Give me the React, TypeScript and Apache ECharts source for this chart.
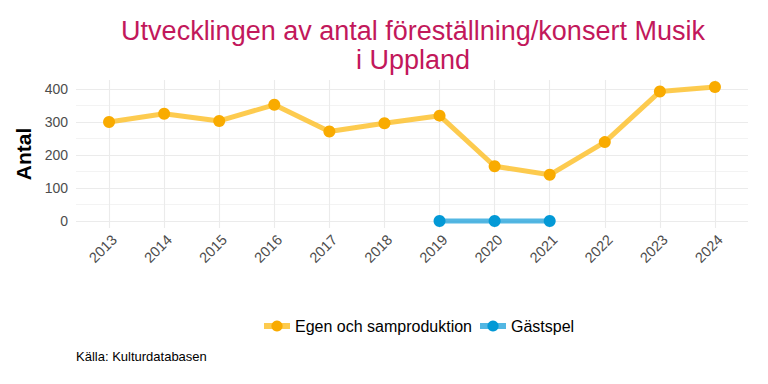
import React, { useEffect, useRef } from "react";
import * as echarts from "echarts";

const years = [2013, 2014, 2015, 2016, 2017, 2018, 2019, 2020, 2021, 2022, 2023, 2024];
const egenValues = [300, 325, 303, 352, 271, 296, 319, 166, 140, 239, 392, 406];
const gastYears = [2019, 2020, 2021];
const gastValues = [0, 0, 0];
const yTicks = [0, 100, 200, 300, 400];
const yMinorTicks = [50, 150, 250, 350];
const seriesNames = ["Egen och samproduktion", "Gästspel"];

export default function App() {
  const ref = useRef<HTMLDivElement>(null);
  useEffect(() => {
    if (!ref.current) return;
    const chart = echarts.init(ref.current, undefined, { renderer: "svg" });
    const grid = "#ebebeb";
    chart.setOption({
      animation: false,
      textStyle: { fontFamily: "Liberation Sans" },
      title: {
        text: "Utvecklingen av antal föreställning/konsert Musik\ni Uppland",
        left: 408,
        textAlign: "center",
        top: 11,
        textStyle: {
          color: "#c2185b",
          fontSize: 27,
          fontWeight: "normal",
          lineHeight: 29,
          fontFamily: "Liberation Sans",
        },
      },
      grid: { left: 76, right: 20, top: 80, bottom: 156 },
      xAxis: {
        type: "value",
        min: 2012.4,
        max: 2024.6,
        axisLine: { show: false },
        axisTick: { show: false },
        splitLine: { show: false },
        axisLabel: {
          customValues: years,
          rotate: 45,
          color: "#4d4d4d",
          fontSize: 14.5,
          margin: 4,
          verticalAlign: "top",
          formatter: (v: number) => String(Math.round(v)),
        },
      },
      yAxis: {
        type: "value",
        min: -21,
        max: 427,
        axisLine: { show: false },
        axisTick: { show: false },
        splitLine: { show: false },
        name: "Antal",
        nameLocation: "middle",
        nameGap: 39,
        nameTextStyle: { color: "#000", fontSize: 21, fontWeight: "bold" },
        axisLabel: {
          customValues: yTicks,
          color: "#4d4d4d",
          fontSize: 14,
          margin: 8,
        },
      },
      legend: {
        data: seriesNames,
        top: 318,
        left: 261,
        padding: 0,
        itemWidth: 26,
        itemHeight: 14,
        itemGap: 5,
        lineStyle: { width: 6 },
        textStyle: { color: "#000", fontSize: 16 },
      },
      graphic: [
        {
          type: "text",
          left: 76,
          top: 350,
          style: { text: "Källa: Kulturdatabasen", fontSize: 13, fill: "#000", fontFamily: "Liberation Sans" },
        },
      ],
      series: [
        {
          type: "line",
          name: "grid",
          data: [],
          z: 0,
          silent: true,
          markLine: {
            silent: true,
            z: 0,
            symbol: "none",
            label: { show: false },
            animation: false,
            data: [
              ...years.map((y) => ({ xAxis: y, lineStyle: { color: grid, width: 1.1, type: "solid" } })),
              ...yTicks.map((v) => ({ yAxis: v, lineStyle: { color: grid, width: 1.1, type: "solid" } })),
              ...yMinorTicks.map((v) => ({ yAxis: v, lineStyle: { color: grid, width: 0.6, type: "solid" } })),
            ],
          },
        },
        {
          type: "line",
          name: seriesNames[0],
          data: years.map((y, i) => [y, egenValues[i]]),
          symbol: "circle",
          symbolSize: 12,
          clip: false,
          itemStyle: { color: "#f9ab00" },
          lineStyle: { color: "rgba(253,190,35,0.8)", width: 5 },
          z: 10,
        },
        {
          type: "line",
          name: seriesNames[1],
          data: gastYears.map((y, i) => [y, gastValues[i]]),
          symbol: "circle",
          symbolSize: 12,
          clip: false,
          itemStyle: { color: "#0399d6" },
          lineStyle: { color: "rgba(40,165,220,0.8)", width: 5 },
          z: 10,
        },
      ],
    });
    return () => chart.dispose();
  }, []);
  return (
    <div
      ref={ref}
      style={{ position: "absolute", left: 0, top: 0, width: 768, height: 384 }}
    />
  );
}
